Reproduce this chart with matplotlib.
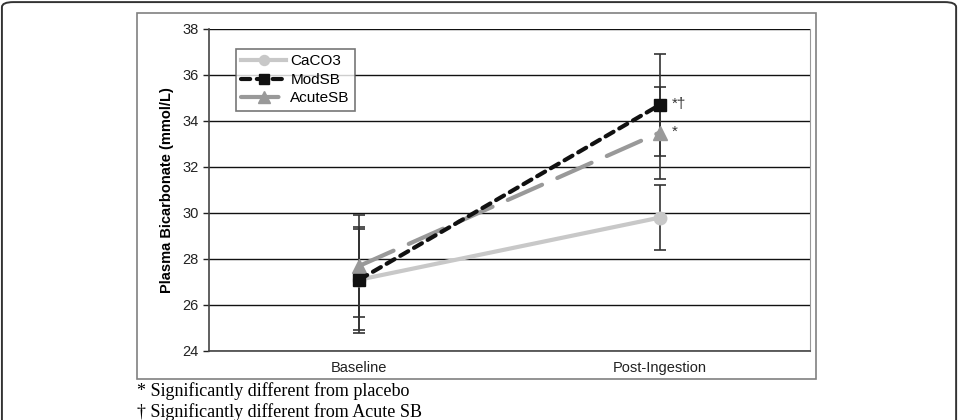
import matplotlib.pyplot as plt
from matplotlib.patches import FancyBboxPatch, Rectangle

# data
categories = ["Baseline", "Post-Ingestion"]
caco3 = [27.1, 29.8]
caco3_err = [2.2, 1.4]
modsb = [27.1, 34.7]
modsb_err = [2.3, 2.2]
acutesb = [27.7, 33.5]
acutesb_err = [2.2, 2.0]
yticks = [24, 26, 28, 30, 32, 34, 36, 38]

plt.rcParams["font.family"] = ["Liberation Sans", "DejaVu Sans"]

fig = plt.figure(figsize=(9.59, 4.2), dpi=100)

# outer rounded frame (runs off the bottom of the image)
fig.patches.append(FancyBboxPatch((0.002, -0.2), 0.995, 1.195,
                                  boxstyle="round,pad=0,rounding_size=0.012",
                                  transform=fig.transFigure, fill=False,
                                  edgecolor="#333333", linewidth=1.4))
# chart frame
fig.patches.append(Rectangle((137 / 959, 1 - 379 / 420), 679 / 959, 366 / 420,
                             transform=fig.transFigure, fill=False,
                             edgecolor="#808080", linewidth=1.2))

ax = fig.add_axes([209 / 959, 1 - 351 / 420, 601 / 959, 322 / 420])
x = list(range(len(categories)))

ax.errorbar(x, caco3, yerr=caco3_err, fmt="none", ecolor="#333333",
            elinewidth=1.2, capsize=4.5, capthick=1.2, zorder=2)
ax.errorbar(x, modsb, yerr=modsb_err, fmt="none", ecolor="#333333",
            elinewidth=1.2, capsize=4.5, capthick=1.2, zorder=2)
ax.errorbar(x, acutesb, yerr=acutesb_err, fmt="none", ecolor="#333333",
            elinewidth=1.2, capsize=4.5, capthick=1.2, zorder=2)

ax.plot(x, caco3, color="#c8c8c8", lw=3, marker="o", ms=9,
        label="CaCO3", zorder=3)
ax.plot(x, acutesb, color="#999999", lw=3, marker="^", ms=10,
        dashes=(9, 4), dash_capstyle="round", label="AcuteSB", zorder=4)
ax.plot(x, modsb, color="#111111", lw=3, marker="s", ms=9,
        dashes=(2.2, 1.6), dash_capstyle="round", label="ModSB", zorder=5)

ax.text(x[1] + 0.04, modsb[1] + 0.05, "*\u2020", fontsize=11, va="center",
        ha="left", color="#333333")
ax.text(x[1] + 0.04, acutesb[1] + 0.05, "*", fontsize=11, va="center",
        ha="left", color="#333333")

ax.set_xlim(-0.5, 1.5)
ax.set_ylim(24, 38)
ax.set_yticks(yticks)
ax.set_xticks(x)
ax.set_xticklabels(categories)
ax.tick_params(axis="x", length=0, pad=7, labelsize=10.5, colors="#222222")
ax.tick_params(axis="y", length=4, width=1, labelsize=10.5, colors="#222222",
               direction="out")
ax.grid(axis="y", color="#111111", linewidth=1)
ax.set_axisbelow(True)
ax.spines["top"].set_visible(False)
ax.spines["right"].set_color("#999999")
ax.spines["left"].set_color("#444444")
ax.spines["bottom"].set_color("#444444")
ax.spines["left"].set_linewidth(1.2)
ax.spines["bottom"].set_linewidth(1.2)

ax.set_ylabel("Plasma Bicarbonate (mmol/L)", fontsize=10.5,
              fontweight="bold", labelpad=6)

handles, labels = ax.get_legend_handles_labels()
order = [0, 2, 1]
leg = ax.legend([handles[i] for i in order], [labels[i] for i in order],
                loc="upper left", bbox_to_anchor=(0.045, 0.938),
                borderaxespad=0, fontsize=11, frameon=True, fancybox=False,
                handlelength=2.9, borderpad=0.35, labelspacing=0.3,
                handletextpad=0.3, markerscale=0.8)
leg.get_frame().set_edgecolor("#555555")
leg.get_frame().set_linewidth(1.2)

fig.text(137 / 959, 1 - 391 / 420, "* Significantly different from placebo",
         family="Liberation Serif", fontsize=13, va="center", ha="left")
fig.text(137 / 959, 1 - 412 / 420, "\u2020 Significantly different from Acute SB",
         family="Liberation Serif", fontsize=13, va="center", ha="left")

fig.savefig("out.png", dpi=100)
